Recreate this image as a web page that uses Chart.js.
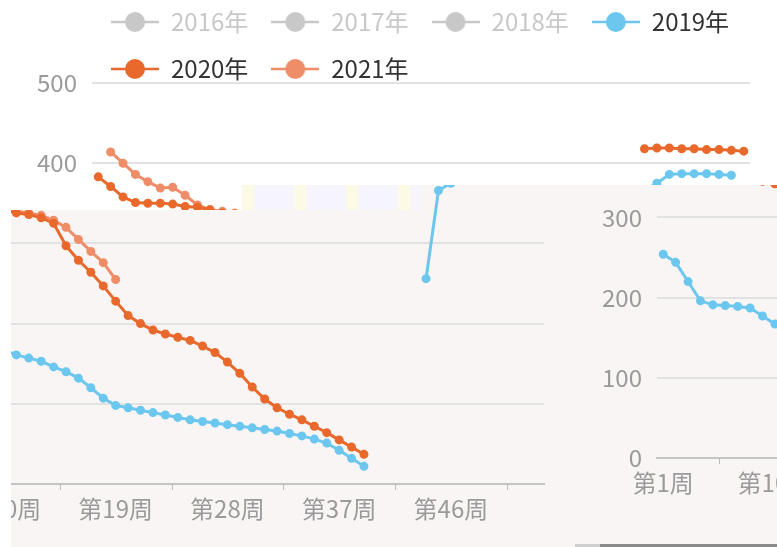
<!DOCTYPE html>
<html>
<head>
<meta charset="utf-8">
<script src="https://cdn.jsdelivr.net/npm/chart.js@4.4.1/dist/chart.umd.min.js"></script>
<style>
  html, body { margin: 0; padding: 0; background: #fff; }
  #page { position: relative; width: 777px; height: 547px; overflow: hidden; background: #fff; }
  .layer { position: absolute; overflow: hidden; }
  .layer canvas { position: absolute; }
  #mid { left: 11px; top: 185px; width: 590px; height: 362px; background: #f9f5f4; z-index: 1; }
  #right { left: 573px; top: 185px; width: 204px; height: 359px; background: #f9f5f4; z-index: 2; }
  #top { left: 0; top: 0; width: 777px; height: 210px; background: #fff; z-index: 3;
         clip-path: polygon(0 0, 777px 0, 777px 185px, 242px 185px, 242px 210px, 0 210px); }
  #strip { position: absolute; left: 242px; top: 185px; width: 178px; height: 25px; z-index: 4;
           background: repeating-linear-gradient(90deg, #fcf9e4 0 12px, #f6f4fc 12px 52px); }
  #bar1 { position: absolute; left: 575px; top: 544px; width: 25px; height: 3px; background: #cfcfcf; z-index: 5; }
  #bar2 { position: absolute; left: 600px; top: 544px; width: 177px; height: 3px; background: #8a8a8a; z-index: 5; }
</style>
</head>
<body>
<div id="page">
  <div class="layer" id="mid"><canvas id="c2" width="777" height="547" style="left:-217px;top:-185px"></canvas></div>
  <div class="layer" id="right"><canvas id="c3" width="777" height="547" style="left:-8px;top:-211px"></canvas></div>
  <div class="layer" id="top"><canvas id="c1" width="777" height="547" style="left:0;top:0"></canvas></div>
  <div id="strip"></div>
  <div id="bar1"></div>
  <div id="bar2"></div>
</div>
<script>
// 周次
const weeks = Array.from({ length: 53 }, (_, i) => '第' + (i + 1) + '周');
const yTicks = [0, 100, 200, 300, 400, 500];

// 各年数据（2016-2018 在图例中被关闭）
const y2016 = [];
const y2017 = [];
const y2018 = [];
const y2019 = [254, 244, 220, 196, 191, 190, 189, 187, 177, 167,
               161, 157, 153, 146, 140, 132, 120, 107, 98, 95,
               92, 89, 86, 83, 80, 78, 76, 74, 72, 70,
               68, 66, 63, 60, 56, 51, 42, 32, 22, null,
               null, null, null, 256, 366, 375, 386, 387, 387, 387,
               386, 385, null];
const y2020 = [383, 371, 358, 351, 350, 350, 349, 346, 345, 342,
               338, 336, 332, 325, 297, 279, 264, 247, 228, 210,
               200, 192, 187, 183, 179, 172, 164, 152, 138, 121,
               106, 95, 87, 80, 72, 64, 55, 46, 37, null,
               null, null, null, null, 418, 419, 419, 418, 418, 417,
               417, 416, 415];
const y2021 = [null, 414, 400, 386, 377, 369, 370, 360, 348, 342,
               340, 338, 335, 329, 320, 305, 290, 276, 255];

const GREY = '#c8c8c8';
const FONT = '"Noto Sans CJK SC", "Microsoft YaHei", sans-serif';
Chart.defaults.font.family = FONT;

function legendIcon(color) {
  const c = document.createElement('canvas');
  c.width = 48; c.height = 24;
  const g = c.getContext('2d');
  g.strokeStyle = color; g.lineWidth = 2.5;
  g.beginPath(); g.moveTo(0, 12); g.lineTo(48, 12); g.stroke();
  g.fillStyle = color;
  g.beginPath(); g.arc(24, 12, 10, 0, Math.PI * 2); g.fill();
  return c;
}

// 图例位置微调
const legendPlace = {
  id: 'legendPlace',
  beforeUpdate(chart) {
    const lg = chart.legend;
    if (lg && !lg._patched) {
      const fit = lg.fit;
      lg.fit = function () { fit.call(this); this.height = 83; };
      lg._patched = true;
    }
  },
  afterLayout(chart) {
    const lg = chart.legend;
    lg.left += 51; lg.right += 51;
    lg.top -= 13;
    lg.bottom = lg.top + 130;
  }
};

// x轴刻度线，落在两个标签中间
const tickMarks = {
  id: 'tickMarks',
  afterDraw(chart) {
    const xs = chart.scales.x;
    const ctx = chart.ctx;
    const half = (xs.getPixelForValue(1) - xs.getPixelForValue(0)) / 2;
    ctx.save();
    ctx.strokeStyle = '#bbbbbb';
    ctx.lineWidth = 1;
    for (let i = 4; i < weeks.length; i += 9) {
      const px = Math.round(xs.getPixelForValue(i) + half) + 0.5;
      ctx.beginPath();
      ctx.moveTo(px, xs.top);
      ctx.lineTo(px, xs.top + 6);
      ctx.stroke();
    }
    ctx.restore();
  }
};

function series(label, data, color, hidden) {
  return {
    label, data, hidden,
    borderColor: color,
    backgroundColor: color,
    pointBackgroundColor: color,
    pointBorderColor: color,
    borderWidth: 3,
    pointRadius: 3,
    tension: 0
  };
}

function makeChart(id) {
  return new Chart(document.getElementById(id), {
    type: 'line',
    data: {
      labels: weeks,
      datasets: [
        series('2016年', y2016, GREY, true),
        series('2017年', y2017, GREY, true),
        series('2018年', y2018, GREY, true),
        series('2019年', y2019, '#6cc7ef', false),
        series('2020年', y2020, '#e9692c', false),
        series('2021年', y2021, '#ef8d68', false)
      ]
    },
    options: {
      responsive: false,
      animation: false,
      devicePixelRatio: 1,
      layout: { padding: { left: 37, right: 27, top: 0, bottom: 0 } },
      plugins: {
        tooltip: { enabled: false },
        legend: {
          position: 'top',
          align: 'start',
          labels: {
            usePointStyle: true,
            pointStyleWidth: 48,
            padding: 23,
            font: { size: 24 },
            generateLabels(chart) {
              return chart.data.datasets.map((ds, i) => {
                const on = chart.isDatasetVisible(i);
                return {
                  text: ds.label,
                  datasetIndex: i,
                  hidden: false,
                  fontColor: on ? '#333333' : GREY,
                  pointStyle: legendIcon(on ? ds.borderColor : GREY),
                  lineWidth: 0,
                  strokeStyle: 'transparent',
                  fillStyle: 'transparent'
                };
              });
            }
          }
        }
      },
      scales: {
        x: {
          offset: true,
          grid: { display: false, drawTicks: false },
          border: { display: true, color: '#c4c4c4', width: 2 },
          ticks: {
            autoSkip: false,
            maxRotation: 0,
            padding: 10,
            color: '#9a9a9a',
            font: { size: 24 },
            callback: (v, i) => (i % 9 === 0 ? weeks[i] : '')
          },
          afterFit(s) { s.height = 63; }
        },
        y: {
          min: yTicks[0],
          max: yTicks[yTicks.length - 1],
          afterBuildTicks(s) { s.ticks = yTicks.map(v => ({ value: v })); },
          grid: { color: '#e2e2e2', lineWidth: 2, drawTicks: false },
          border: { display: false },
          ticks: { padding: 15, color: '#9a9a9a', font: { size: 24 } },
          afterFit(s) { s.width = 55; }
        }
      }
    },
    plugins: [legendPlace, tickMarks]
  });
}

makeChart('c1');
makeChart('c2');
makeChart('c3');
</script>
</body>
</html>
